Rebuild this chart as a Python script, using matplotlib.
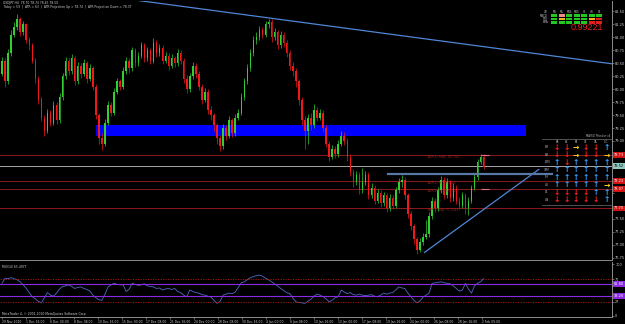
import matplotlib.pyplot as plt
import matplotlib.transforms as mtransforms
from matplotlib.patches import Rectangle

# USDJPY H4 candles (open = previous close)
first_open = 80.30
closes = [
    80.55, 80.15, 80.70, 81.05, 81.20, 81.35, 81.10, 81.25, 80.95, 80.85,
    80.55, 80.20, 79.80, 79.45, 79.20, 79.55, 79.35, 79.70, 79.40, 79.85,
    80.25, 80.55, 80.35, 80.60, 80.15, 80.45, 80.30, 80.50, 80.20, 80.40,
    80.05, 79.50, 79.05, 78.95, 79.35, 79.70, 79.55, 79.95, 80.15, 80.05,
    80.35, 80.55, 80.40, 80.75, 80.50, 80.65, 80.85, 80.60, 80.75, 80.55,
    80.90, 80.70, 80.80, 80.55, 80.65, 80.45, 80.60, 80.50, 80.70, 80.55,
    80.20, 80.00, 80.25, 80.45, 80.30, 80.05, 79.80, 79.95, 79.60, 79.50,
    79.30, 79.05, 78.90, 79.25, 79.10, 79.40, 79.15, 79.45, 79.55, 79.85,
    80.15, 80.40, 80.70, 80.95, 81.00, 81.15, 81.05, 81.25, 81.30, 81.00,
    81.10, 80.85, 81.05, 80.90, 80.70, 80.45, 80.35, 80.15, 79.80, 79.40,
    79.20, 79.45, 79.30, 79.60, 79.45, 79.55, 79.25, 78.95, 78.70, 78.85,
    78.75, 78.95, 79.10, 79.00, 78.70, 78.40, 78.20, 78.35, 78.05, 78.20,
    78.35, 77.95, 78.10, 77.85, 78.00, 77.80, 77.95, 77.70, 77.90, 77.75,
    78.05, 78.20, 78.25, 77.95, 77.60, 77.35, 77.10, 76.90, 77.05, 77.15,
    77.20, 77.55, 77.85, 77.70, 78.05, 78.25, 77.95, 78.20, 77.90, 78.10,
    77.85, 77.75, 77.95, 77.70, 77.85, 78.10, 78.30, 78.60, 78.70, 78.50,
]
highs = [
    80.62, 80.60, 80.78, 81.15, 81.30, 81.45, 81.40, 81.32, 81.28, 81.00,
    80.90, 80.60, 80.25, 79.85, 79.50, 79.62, 79.60, 79.78, 79.75, 79.92,
    80.32, 80.62, 80.60, 80.68, 80.65, 80.52, 80.50, 80.58, 80.55, 80.48,
    80.45, 80.10, 79.55, 79.15, 79.42, 79.78, 79.75, 80.02, 80.22, 80.20,
    80.42, 80.62, 80.60, 80.82, 80.80, 80.72, 80.92, 80.90, 80.82, 80.80,
    80.98, 80.95, 80.88, 80.85, 80.72, 80.70, 80.68, 80.65, 80.78, 80.75,
    80.60, 80.28, 80.32, 80.52, 80.50, 80.35, 80.10, 80.02, 80.00, 79.68,
    79.55, 79.35, 79.12, 79.32, 79.30, 79.48, 79.45, 79.52, 79.62, 79.92,
    80.22, 80.48, 80.78, 81.02, 81.10, 81.22, 81.20, 81.32, 81.36, 81.35,
    81.18, 81.15, 81.12, 81.10, 80.95, 80.75, 80.52, 80.40, 80.20, 79.85,
    79.48, 79.52, 79.55, 79.72, 79.65, 79.62, 79.60, 79.30, 79.00, 78.92,
    78.90, 79.02, 79.20, 79.18, 79.05, 78.75, 78.45, 78.42, 78.40, 78.48,
    78.42, 78.40, 78.18, 78.15, 78.08, 78.05, 78.02, 78.00, 77.98, 77.95,
    78.12, 78.28, 78.35, 78.30, 78.00, 77.65, 77.40, 77.15, 77.12, 77.22,
    77.48, 77.62, 77.92, 77.90, 78.12, 78.32, 78.30, 78.28, 78.25, 78.18,
    78.15, 77.92, 78.02, 78.00, 77.92, 78.15, 78.36, 78.66, 78.75, 78.74,
]
lows = [
    80.25, 80.05, 80.10, 80.65, 81.00, 81.15, 81.02, 81.05, 80.90, 80.75,
    80.50, 80.12, 79.72, 79.38, 79.10, 79.15, 79.28, 79.30, 79.32, 79.35,
    79.80, 80.20, 80.28, 80.30, 80.08, 80.10, 80.22, 80.25, 80.12, 80.15,
    79.98, 79.42, 78.95, 78.82, 78.90, 79.30, 79.48, 79.50, 79.90, 79.98,
    80.00, 80.30, 80.32, 80.35, 80.42, 80.45, 80.60, 80.52, 80.55, 80.48,
    80.50, 80.62, 80.65, 80.48, 80.50, 80.38, 80.40, 80.42, 80.45, 80.48,
    80.12, 79.92, 79.95, 80.20, 80.22, 79.98, 79.72, 79.75, 79.52, 79.40,
    79.20, 78.95, 78.80, 78.85, 79.02, 79.05, 79.08, 79.10, 79.40, 79.50,
    79.80, 80.10, 80.35, 80.65, 80.88, 80.95, 80.98, 81.00, 81.18, 80.92,
    80.95, 80.78, 80.80, 80.82, 80.62, 80.38, 80.25, 80.05, 79.70, 79.30,
    78.85, 78.95, 79.22, 79.25, 79.38, 79.40, 79.18, 78.88, 78.62, 78.65,
    78.68, 78.70, 78.90, 78.92, 78.62, 78.32, 78.12, 78.15, 77.98, 78.00,
    78.15, 77.88, 77.90, 77.78, 77.80, 77.72, 77.75, 77.62, 77.65, 77.68,
    77.70, 78.00, 78.12, 77.88, 77.52, 77.28, 77.02, 76.82, 76.85, 77.00,
    77.10, 77.15, 77.50, 77.62, 77.65, 78.00, 77.88, 77.90, 77.82, 77.85,
    77.78, 77.68, 77.70, 77.60, 77.58, 77.80, 78.05, 78.25, 78.55, 78.45,
]
rsi = [
    63, 73, 72, 74, 72, 70, 66, 60, 53, 45,
    37, 33, 28, 25, 35, 45, 40, 38, 44, 52,
    57, 58, 60, 57, 53, 55, 56, 53, 51, 48,
    40, 35, 31, 30, 42, 56, 60, 63, 61, 60,
    60, 47, 52, 63, 61, 59, 60, 62, 58, 57,
    56, 53, 54, 50, 52, 53, 51, 53, 47, 45,
    40, 37, 50, 47, 45, 44, 41, 40, 38, 36,
    30, 24, 28, 40, 42, 44, 43, 46, 55, 64,
    66, 70, 74, 76, 78, 79, 77, 73, 70, 66,
    62, 58, 53, 49, 45, 43, 35, 27, 26, 25,
    24, 28, 32, 38, 42, 40, 37, 33, 27, 30,
    35, 37, 50, 46, 43, 45, 41, 40, 42, 40,
    39, 40, 41, 38, 37, 40, 44, 42, 44, 45,
    50, 56, 54, 53, 44, 37, 30, 25, 29, 36,
    40, 44, 63, 64, 65, 66, 64, 63, 62, 58,
    53, 48, 50, 63, 52, 44, 58, 63, 66, 72,
]

time_labels = ["29 Nov 2010", "1 Dec 16:00", "6 Dec 00:00", "8 Dec 08:00", "10 Dec 16:00",
               "15 Dec 00:00", "17 Dec 08:00", "21 Dec 16:00", "24 Dec 00:00", "28 Dec 08:00",
               "30 Dec 16:00", "4 Jan 00:00", "6 Jan 08:00", "10 Jan 16:00", "13 Jan 00:00",
               "17 Jan 08:00", "19 Jan 16:00", "24 Jan 00:00", "26 Jan 08:00", "28 Jan 16:00",
               "2 Feb 00:00"]
label_step = 7.92
price_ticks = [76.75, 77.00, 77.25, 77.50, 77.75, 78.00, 78.25, 78.50, 78.75,
               79.00, 79.25, 79.50, 79.75, 80.00, 80.25, 80.50, 80.75, 81.00, 81.25, 81.50]

# drawn objects
zone = (31, 173, 79.10, 79.31)
down_trend = ([44, 201.4], [81.72, 80.49])
up_trend = ([139.5, 177.2], [76.85, 78.45])
red_levels = [78.73, 78.23, 78.07, 77.70]
gray_level = 78.52
pivot = (127.4, 181.6, 78.37)
atr_texts = [("ATR(1) max: 78.7323", 78.69), ("ATR(1) hi: 78.2323", 78.19),
             ("ATR(1) lo: 78.0723", 78.03), ("ATR(1) sup: 77.7023", 77.66)]
rsi_levels = [71, 27]
rsi_fib = [61.80, 38.20]

# multi-timeframe panel
mtf_cols = ["M1", "M5", "M15", "M30", "H1", "H4", "D1"]
mtf_rows = ["MACD", "STR", "EMA"]
mtf_states = ["gpggggg", "gygggyr", "gggggrr"]
# MA monitor arrows
mon_cols = ["EA", "EK", "TA", "CE", "CA", "C/C"]
mon_rows = ["1M", "5M", "15M", "30M", "1H", "4H", "D1", "W1"]
mon_states = ["ddrddu", "ddrddr", "uduuuu", "uuuuuu", "uuuuuu", "uuuuur", "dddduu", "dddddu"]

W, H = 625, 324
fig = plt.figure(figsize=(6.25, 3.24), dpi=100, facecolor="black")


def box(x0, y0, x1, y1):
    return [x0 / W, 1 - y1 / H, (x1 - x0) / W, (y1 - y0) / H]


def ftext(x, y, s, **kw):
    fig.text(x / W, 1 - y / H, s, **kw)


ax = fig.add_axes(box(0, 0.5, 612, 260))
rax = fig.add_axes(box(0, 262, 612, 317))
frame = "#8c8c8c"
tick_col = "#cfcfcf"
fs = 2.5     # axis labels
fs_s = 2.2   # chart texts
for a in (ax, rax):
    a.set_facecolor("black")
    for s in ("left", "top"):
        a.spines[s].set_visible(False)
    for s in ("right", "bottom"):
        a.spines[s].set_color(frame)
        a.spines[s].set_linewidth(0.7)
    a.yaxis.tick_right()
    a.tick_params(axis="y", colors=frame, labelcolor=tick_col, labelsize=fs,
                  length=1.5, width=0.5, pad=0.8)
    a.set_xlim(-0.66, 201.4)

n = len(closes)
idx = list(range(n))
opens = [first_open] + closes[:-1]
green, red = "#2fd02f", "#f01818"
cols = [green if c >= o else red for o, c in zip(opens, closes)]
ax.vlines(idx, lows, highs, colors=cols, linewidth=0.5, zorder=3)
bottoms = [min(o, c) for o, c in zip(opens, closes)]
heights = [max(abs(c - o), 0.012) for o, c in zip(opens, closes)]
ax.bar(idx, heights, bottom=bottoms, width=0.5, color=cols, linewidth=0, zorder=3)

ax.add_patch(Rectangle((zone[0], zone[2]), zone[1] - zone[0], zone[3] - zone[2],
                       facecolor="#0000ff", edgecolor="none", zorder=2))
for lv in red_levels:
    ax.axhline(lv, color="#8c1a1a", linewidth=0.7, zorder=1)
ax.axhline(gray_level, color="#a8a8a8", linewidth=0.7, zorder=1)
ax.plot(down_trend[0], down_trend[1], color="#4f86d6", linewidth=0.9, zorder=4)
ax.plot(up_trend[0], up_trend[1], color="#4f86d6", linewidth=0.9, zorder=4)
ax.plot([pivot[0], pivot[1]], [pivot[2], pivot[2]], color="#5878a8", linewidth=1.6, zorder=4)
for s, y in atr_texts:
    ax.text(140.5, y, s, color="#a02626", fontsize=fs_s, va="center", zorder=5)
ax.hlines([red_levels[0], red_levels[2]], 158, 160.8, colors="#e07090", linewidth=0.8, zorder=5)

# price scale: boxed labels hide the plain ticks under them
boxed = red_levels + [gray_level]
shown = [t for t in price_ticks if all(abs(t - b) > 0.09 for b in boxed)]
ax.set_ylim(76.703, 81.712)
ax.set_yticks(price_ticks)
ax.set_yticklabels([f"{t:.2f}" if t in shown else "" for t in price_ticks])
ax.set_xticks([])

trans = mtransforms.blended_transform_factory(ax.transAxes, ax.transData)
for lv in red_levels:
    ax.text(1.003, lv, f"{lv:.2f}", transform=trans, fontsize=fs, color="white",
            va="center", ha="left", clip_on=False, zorder=6,
            bbox=dict(boxstyle="square,pad=0.2", facecolor="#d01414", edgecolor="none"))
ax.text(1.003, gray_level, f"{gray_level:.2f}", transform=trans, fontsize=fs, color="black",
        va="center", ha="left", clip_on=False, zorder=6,
        bbox=dict(boxstyle="square,pad=0.2", facecolor="#8fc8c0", edgecolor="none"))

# RSI panel
rax.plot(idx, rsi, color="#4f68c8", linewidth=0.6)
for lv in rsi_levels:
    rax.axhline(lv, color="#b01818", linewidth=0.6, linestyle=(0, (1.5, 1.5)))
for lv in rsi_fib:
    rax.axhline(lv, color="#8a2be2", linewidth=0.8)
rax.set_ylim(-2.5, 104.5)
rax.set_yticks([0] + rsi_levels[::-1] + [100])
rax.set_yticklabels(["0"] + [str(v) for v in rsi_levels[::-1]] + ["100"])
rtrans = mtransforms.blended_transform_factory(rax.transAxes, rax.transData)
for lv in rsi_fib:
    rax.text(1.003, lv, f"{lv:.2f}", transform=rtrans, fontsize=fs, color="white",
             va="center", ha="left", clip_on=False,
             bbox=dict(boxstyle="square,pad=0.2", facecolor="#8a2be2", edgecolor="none"))
rax.set_xticks([k * label_step for k in range(len(time_labels))])
rax.set_xticklabels(time_labels, ha="left")
rax.tick_params(axis="x", colors=frame, labelcolor=tick_col, labelsize=fs_s,
                length=1.5, width=0.5, pad=0.8)
rax.text(0.004, 0.9, "RSI(14) 65.4977", transform=rax.transAxes, color=tick_col,
         fontsize=fs_s, va="center")
rax.text(0.004, 0.05, "MetaTrader 4, \u00a9 2001-2010 MetaQuotes Software Corp.",
         transform=rax.transAxes, color=tick_col, fontsize=fs_s, va="center")

# header
ftext(3, 3.3, "USDJPY,H4  78.70 78.74 78.45 78.50", color=tick_col, fontsize=fs_s, va="center")
ftext(3, 7.0, "Today = 59  |  ATR = 63  |  ATR Projection Up = 78.74  |  "
      "ATR Projection Down = 78.37", color=tick_col, fontsize=fs_s, va="center")

# multi-timeframe panel
cell = {"g": "#22c822", "p": "#f08a8a", "y": "#f0b020", "r": "#e02020"}
col_x = [554.3, 561.7, 569.3, 576.7, 584.3, 591.7, 599.3]
ftext(548, 12.3, "CH", color="#bdbdbd", fontsize=1.9, ha="right", va="center")
for j, c in enumerate(mtf_cols):
    ftext(col_x[j], 12.3, c, color="#bdbdbd", fontsize=1.9, ha="center", va="center")
for r, (name, states) in enumerate(zip(mtf_rows, mtf_states)):
    y = 15.7 + r * 3.3
    ftext(548, y, name, color="#bdbdbd", fontsize=1.9, ha="right", va="center")
    for j, st in enumerate(states):
        fig.add_artist(Rectangle(((col_x[j] - 3) / W, 1 - (y + 1.2) / H), 6 / W, 2.4 / H,
                                 transform=fig.transFigure, facecolor=cell[st],
                                 edgecolor="none"))
ftext(603, 28, "0.99221", color="#e82020", fontsize=6.5, ha="right", va="center",
      family=["Liberation Sans Narrow", "Liberation Sans", "DejaVu Sans"])

# MA monitor table
arrow = {"u": ("\u2191", "#3aa0ff"), "d": ("\u2193", "#ff2020"), "r": ("\u2192", "#ffd21e")}
mcol_x = [557, 566.5, 576, 586, 596, 606.5]
ftext(610, 136, "MA(50) Monitor v4", color="#bdbdbd", fontsize=1.9, ha="right", va="center")
for yy in (139.3, 204.5):
    fig.add_artist(plt.Line2D([542 / W, 612 / W], [1 - yy / H] * 2, color="#707070",
                              linewidth=0.5, transform=fig.transFigure))
for j, c in enumerate(mon_cols):
    ftext(mcol_x[j], 142, c, color="#bdbdbd", fontsize=1.9, ha="center", va="center")
for r, (name, states) in enumerate(zip(mon_rows, mon_states)):
    y = 147.3 + r * 7.5
    ftext(547, y, name, color="#bdbdbd", fontsize=1.9, ha="center", va="center")
    for j, st in enumerate(states):
        g, c = arrow[st]
        ftext(mcol_x[j], y, g, color=c, fontsize=5.5, fontweight="bold",
              ha="center", va="center")

fig.savefig("out.png", dpi=100, facecolor="black")
